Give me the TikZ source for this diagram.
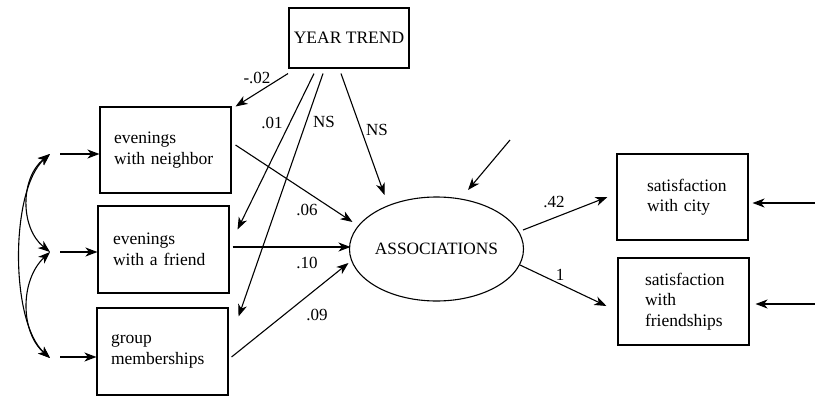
\documentclass[tikz,border=0pt]{standalone}
\usepackage{fontspec}
\setmainfont{Liberation Serif}
\usetikzlibrary{arrows.meta,shapes.geometric,calc}
\begin{document}
\begin{tikzpicture}[x=1pt,y=-1pt,
  line width=1.1pt,
  arr/.style={-{Stealth[length=12pt,width=9pt,inset=3.5pt]}},
  darr/.style={{Stealth[length=12pt,width=9pt,inset=3.5pt]}-{Stealth[length=12pt,width=9pt,inset=3.5pt]}},
  boxtxt/.style={font=\fontsize{17.5}{20.5}\selectfont},
  lbl/.style={font=\fontsize{17}{18}\selectfont, inner sep=0pt},
  varbox/.style={draw, boxtxt, align=left, minimum height=#1, inner ysep=0pt},
]
\useasboundingbox (0,0) rectangle (815,397);

% boxes
\node[draw, font=\fontsize{17.5}{20}\selectfont, minimum width=120pt, minimum height=60pt, inner sep=0pt] (yt) at (349,38) {YEAR TREND};
\node[varbox=86pt, inner xsep=14pt, text width=103pt] (nb) at (165.5,150) {evenings\\with neighbor\\[3pt]};
\node[varbox=87pt, inner xsep=15pt, text width=101pt] (fr) at (163.5,249.5) {evenings\\with a friend\\[3pt]};
\node[varbox=87pt, inner xsep=14pt, text width=103pt] (gm) at (162.5,351.5) {group\\memberships\\[10pt]};
\node[draw, ellipse, font=\fontsize{17.3}{20}\selectfont, minimum width=157pt, minimum height=104pt, inner sep=0pt] (as) at (436.5,249) {ASSOCIATIONS};
\node[varbox=86pt, inner xsep=30pt, text width=71pt] (sc) at (682.5,197) {satisfaction\\with city};
\node[varbox=87pt, inner xsep=27pt, text width=77pt] (sf) at (683.5,301.5) {satisfaction\\with\\friendships};

% YEAR TREND paths
\draw[arr] ($(yt.south)+(-61,5)$) -- ($(nb.north east)+(4,0)$);
\draw[arr] ($(yt.south)+(-35,5)$) -- ($(fr.north east)+(8,24)$);
\draw[arr] ($(yt.south)+(-26,5)$) -- ($(gm.north east)+(10,9)$);
\draw[arr] ($(yt.south)+(-8,5)$) -- ($(as)+(-52,-54)$);

% paths to ASSOCIATIONS
\draw[arr] ($(nb.east)+(4,-5)$) -- ($(as)+(-84,-27)$);
\draw[arr] ($(fr.east)+(3,-2.5)$) -- ($(as)+(-86,-2)$);
\draw[arr] ($(gm.east)+(3,5.5)$) -- ($(as)+(-88,14)$);

% ASSOCIATIONS to indicators
\draw[arr] ($(as)+(86.5,-19)$) -- ($(sc.west)+(-9,0)$);
\draw[arr] ($(as)+(83.5,16)$) -- ($(sf.west)+(-11,4.5)$);

% error terms
\coordinate (eas) at (510,140);
\draw[arr] (eas) -- ($(as)+(31.5,-59)$);
\coordinate (esc) at (815,203);
\draw[arr] (esc) -- ($(sc.east)+(4,6)$);
\coordinate (esf) at (815,304);
\draw[arr] (esf) -- ($(sf.east)+(6,2.5)$);

% exogenous inputs
\coordinate (c1) at (50,154);
\coordinate (c2) at (50,252);
\coordinate (c3) at (50,358);
\coordinate (s1) at (60,154);
\coordinate (s2) at (60,252);
\coordinate (s3) at (60,357);
\draw[arr] (s1) -- (nb.west |- s1);
\draw[arr] (s2) -- (fr.west |- s2);
\draw[arr] (s3) -- (gm.west |- s3);
\draw[darr] (c1) .. controls (20,178) and (20,228) .. (c2);
\draw[darr] (c2) .. controls (20,280) and (20,332) .. (c3);
\draw[darr] (c1) .. controls (10,190) and (10,322) .. (c3);

% labels
\node[lbl] (l1) at (257,78) {-.02};
\node[lbl] (l2) at (272,123) {.01};
\node[lbl] (l3) at (324,122) {NS};
\node[lbl] (l4) at (377,130) {NS};
\node[lbl] (l5) at (307,210) {.06};
\node[lbl] (l6) at (307,263) {.10};
\node[lbl] (l7) at (317,315) {.09};
\node[lbl] (l8) at (554,202) {.42};
\node[lbl] (l9) at (560,275) {1};
\end{tikzpicture}
\end{document}
